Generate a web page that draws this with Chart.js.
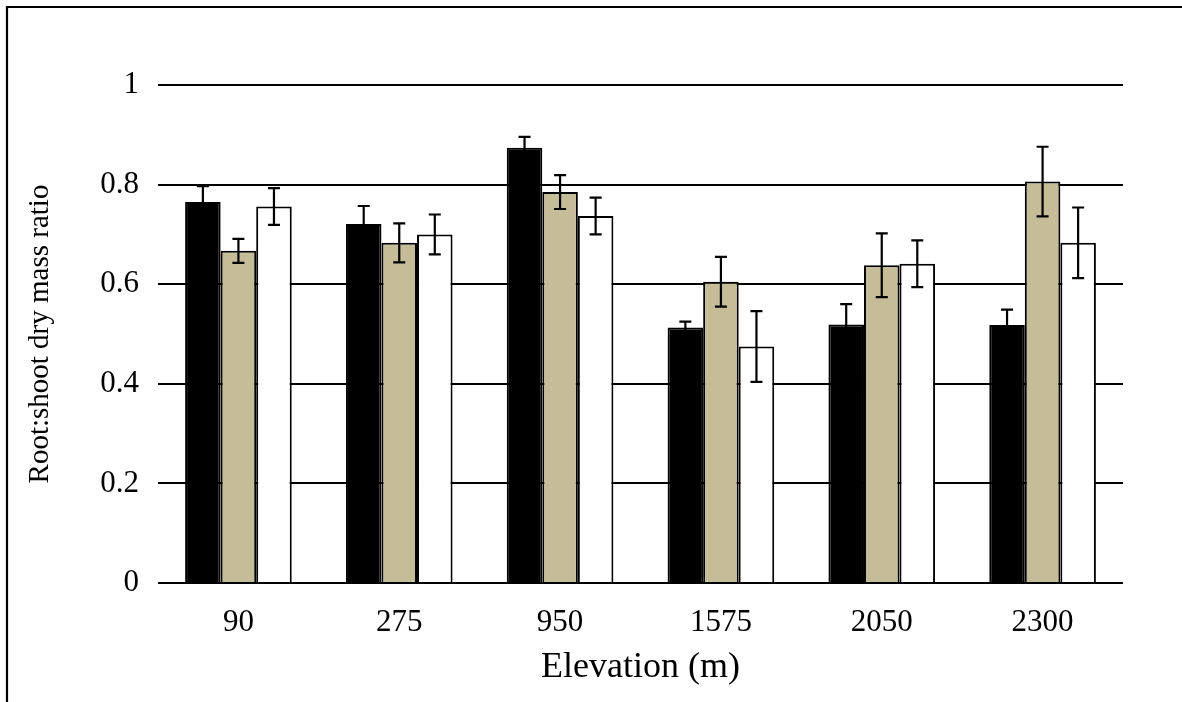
<!DOCTYPE html>
<html>
<head>
<meta charset="utf-8">
<script src="https://cdn.jsdelivr.net/npm/chart.js@4"></script>
<style>
  html, body { margin: 0; padding: 0; background: #fff; }
  #wrap { width: 1182px; height: 702px; position: relative; }
</style>
</head>
<body>
<div id="wrap"><canvas id="c" width="1182" height="702"></canvas></div>
<script>
// Elevation classes on the x axis
const elevations = ['90', '275', '950', '1575', '2050', '2300'];

// Mean root:shoot ratio per series and its standard error
const seriesBlack = [0.765, 0.721, 0.874, 0.513, 0.519, 0.518];
const errBlack    = [0.032, 0.036, 0.022, 0.012, 0.041, 0.031];
const seriesTan   = [0.667, 0.683, 0.785, 0.605, 0.638, 0.806];
const errTan      = [0.024, 0.039, 0.034, 0.050, 0.064, 0.070];
const seriesWhite = [0.756, 0.700, 0.737, 0.475, 0.641, 0.683];
const errWhite    = [0.037, 0.040, 0.037, 0.071, 0.047, 0.071];

// Y axis ticks
const yTicks = [0, 0.2, 0.4, 0.6, 0.8, 1];

const errors = [errBlack, errTan, errWhite];
const serif = '"Liberation Serif", "Times New Roman", serif';

// Thin frame along the top and left edges, white background
const framePlugin = {
  id: 'frame',
  beforeDraw(chart) {
    const ctx = chart.ctx;
    ctx.save();
    ctx.fillStyle = '#fff';
    ctx.fillRect(0, 0, chart.width, chart.height);
    ctx.strokeStyle = '#000';
    ctx.lineWidth = 2.2;
    ctx.beginPath();
    ctx.moveTo(7, chart.height);
    ctx.lineTo(7, 7);
    ctx.lineTo(chart.width, 7);
    ctx.stroke();
    ctx.restore();
  }
};

// Error bars: drawn from each bar's centre using the y scale
const errorBarPlugin = {
  id: 'errorBars',
  afterDatasetsDraw(chart) {
    const ctx = chart.ctx;
    const y = chart.scales.y;
    ctx.save();
    ctx.strokeStyle = '#000';
    ctx.lineWidth = 2.2;
    chart.data.datasets.forEach((ds, i) => {
      const meta = chart.getDatasetMeta(i);
      meta.data.forEach((bar, j) => {
        const v = ds.data[j];
        const e = errors[i][j];
        const yTop = y.getPixelForValue(v + e);
        const yBot = y.getPixelForValue(v - e);
        const x = bar.x;
        const cap = 6;
        ctx.beginPath();
        ctx.moveTo(x, yTop); ctx.lineTo(x, yBot);
        ctx.moveTo(x - cap, yTop); ctx.lineTo(x + cap, yTop);
        ctx.moveTo(x - cap, yBot); ctx.lineTo(x + cap, yBot);
        ctx.stroke();
      });
    });
    ctx.restore();
  }
};

const barCommon = {
  borderColor: '#000',
  borderWidth: 2,
  barPercentage: 1.0,
  categoryPercentage: 0.663
};

new Chart(document.getElementById('c'), {
  type: 'bar',
  data: {
    labels: elevations,
    datasets: [
      Object.assign({ label: 'Series 1', data: seriesBlack, backgroundColor: '#000' }, barCommon),
      Object.assign({ label: 'Series 2', data: seriesTan, backgroundColor: '#c4bd97' }, barCommon),
      Object.assign({ label: 'Series 3', data: seriesWhite, backgroundColor: '#fff' }, barCommon)
    ]
  },
  options: {
    responsive: false,
    animation: false,
    devicePixelRatio: 1,
    layout: { padding: { top: 85, right: 59, bottom: 0, left: 0 } },
    plugins: {
      legend: { display: false },
      tooltip: { enabled: false }
    },
    scales: {
      x: {
        grid: { display: false, drawTicks: false },
        border: { display: false },
        ticks: { color: '#000', font: { family: serif, size: 31 }, padding: 21, maxRotation: 0 },
        title: {
          display: true,
          text: 'Elevation (m)',
          color: '#000',
          font: { family: serif, size: 36 },
          padding: { top: 0, bottom: 13 }
        },
        afterFit(scale) { scale.height = 119; }
      },
      y: {
        min: 0,
        max: 1,
        afterBuildTicks(scale) { scale.ticks = yTicks.map(v => ({ value: v })); },
        grid: { color: '#000', lineWidth: 2, drawTicks: false },
        border: { display: false },
        ticks: {
          color: '#000',
          font: { family: serif, size: 31 },
          padding: 19,
          callback: v => String(v)
        },
        title: {
          display: true,
          text: 'Root:shoot dry mass ratio',
          color: '#000',
          font: { family: serif, size: 29 },
          padding: { top: 23, bottom: 0 }
        },
        afterFit(scale) { scale.width = 158; }
      }
    }
  },
  plugins: [framePlugin, errorBarPlugin]
});
</script>
</body>
</html>
